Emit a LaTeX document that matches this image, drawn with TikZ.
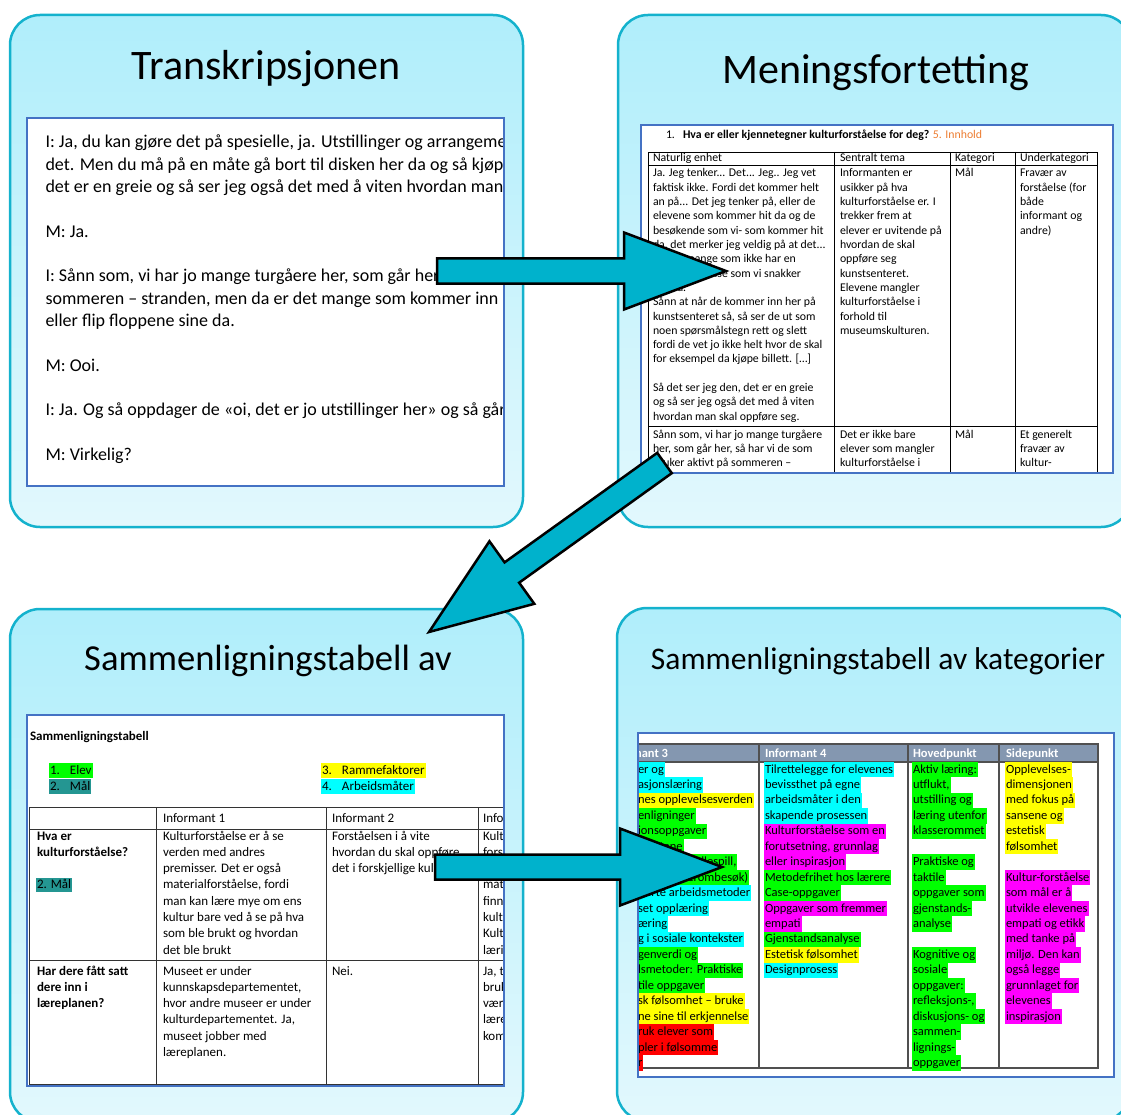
\documentclass[tikz,border=0pt]{standalone}
\usepackage{fontspec}
\setmainfont{Carlito}
\usetikzlibrary{calc}
\definecolor{panelborder}{RGB}{20,178,205}
\definecolor{paneltop}{RGB}{176,238,251}
\definecolor{panelbot}{RGB}{226,248,253}
\definecolor{docborder}{RGB}{68,114,196}
\definecolor{arrowfill}{RGB}{0,178,204}
\definecolor{hlg}{RGB}{0,255,0}
\definecolor{hlc}{RGB}{0,255,255}
\definecolor{hly}{RGB}{255,255,0}
\definecolor{hlm}{RGB}{255,0,255}
\definecolor{hlr}{RGB}{255,0,0}
\definecolor{hlt}{RGB}{36,150,146}
\definecolor{hdrfill}{RGB}{132,151,176}
\definecolor{innhold}{RGB}{237,125,49}
\definecolor{gridgray}{RGB}{80,80,80}
\newcommand\fsTitleA{\fontsize{42}{46}\selectfont}
\newcommand\fsTitleB{\fontsize{36.6}{40}\selectfont}
\newcommand\fsTitleC{\fontsize{31.5}{34}\selectfont}
\newcommand\fsOne{\fontsize{18}{21}\selectfont}
\newcommand\fsTwo{\fontsize{11.8}{14}\selectfont}
\newcommand\fsThree{\fontsize{13}{16}\selectfont}
\newcommand\fsFour{\fontsize{12.5}{15}\selectfont}
\newcommand\blockarrow[3]{%
  \coordinate (#3h) at ($(#2)!102pt!(#1)$);
  \draw[bigarrow] ($(#1)!12.5pt!90:(#2)$) -- ($(#3h)!12.5pt!90:(#2)$)
    -- ($(#3h)!38.5pt!90:(#2)$) -- (#2) -- ($(#3h)!38.5pt!-90:(#2)$)
    -- ($(#3h)!12.5pt!-90:(#2)$) -- ($(#1)!12.5pt!-90:(#2)$) -- cycle;}
\begin{document}
\begin{tikzpicture}[x=1pt,y=-1pt,
  panel/.style={draw=panelborder, line width=2.5pt, rounded corners=30pt, top color=paneltop, bottom color=panelbot},
  docline/.style={draw=docborder, line width=1.5pt},
  title/.style={anchor=base, inner sep=0pt},
  txt/.style={anchor=base west, inner sep=0pt, outer sep=0pt},
  hlA/.style={anchor=base west, fill=#1, inner xsep=1pt, inner ysep=0pt, outer sep=0pt, text height=11.3pt, text depth=4.15pt, font=\fsFour},
  hlB/.style={anchor=base west, fill=#1, inner xsep=1pt, inner ysep=0pt, outer sep=0pt, text height=11pt, text depth=3.5pt, font=\fsThree},
  tblA/.style={draw=black, line width=0.9pt},
  tblB/.style={draw=black!80, line width=1pt},
  tblC/.style={draw=gridgray, line width=1.2pt},
  bigarrow/.style={draw=black, line width=2.5pt, fill=arrowfill, line join=miter}]
\useasboundingbox (0,0) rectangle (1121,1115);
\clip (0,0) rectangle (1121,1115);

% ---------- panels ----------
\draw[panel] (10,15) rectangle (523,527);
\draw[panel] (618,15) rectangle (1131,527);
\draw[panel] (10,609) rectangle (523,1122);
\draw[panel] (617,608) rectangle (1130,1121);

\node[title, font=\fsTitleA] (title1) at (266,80) {Transkripsjonen};
\node[title, font=\fsTitleA] (title2) at (876,84) {Meningsfortetting};
\node[title, font=\fsTitleB] (title3) at (268,670) {Sammenligningstabell av};
\node[title, font=\fsTitleC] (title4) at (878,669) {Sammenligningstabell av kategorier};

% ---------- panel 1: transcript ----------
\fill[white] (27,118) rectangle (504,486);
\begin{scope}
\clip (27,118) rectangle (504,486);
\foreach \k/\t in {0/{I: Ja, du kan gjøre det på spesielle, ja. Utstillinger og arrangementer og},
  1/{det. Men du må på en måte gå bort til disken her da og så kjøpe billett},
  2/{det er en greie og så ser jeg også det med å viten hvordan man skal},
  4/{M: Ja.},
  6/{I: Sånn som, vi har jo mange turgåere her, som går her på},
  7/{sommeren – stranden, men da er det mange som kommer inn},
  8/{eller flip floppene sine da.},
  10/{M: Ooi.},
  12/{I: Ja. Og så oppdager de «oi, det er jo utstillinger her» og så går de},
  14/{M: Virkelig?}}
  \node[txt, font=\fsOne] (p1l\k) at (45.5,{148+22.3*\k}) {\t};
\end{scope}
\draw[docline] (27,118) rectangle (504,486);

% ---------- panel 2: meaning condensation ----------
\fill[white] (641,125) rectangle (1113,473);
\begin{scope}
\clip (641,125) rectangle (1113,473);
\node[txt, font=\fsTwo] (p2num) at (666,139) {1.};
\node[txt, font=\fsTwo\bfseries] (p2q) at (683,139) {Hva er eller kjennetegner kulturforståelse for deg? \textcolor{innhold}{\mdseries 5. Innhold}};
\draw[tblA] (648,152) rectangle (1097,490);
\draw[tblA] (648,165) -- (1097,165);
\draw[tblA] (648,426) -- (1097,426);
\foreach \cx in {834,950,1015} \draw[tblA] (\cx,152) -- (\cx,490);
\node[txt, font=\fsTwo] (p2h1) at (653,162) {Naturlig enhet};
\node[txt, font=\fsTwo] (p2h2) at (840,162) {Sentralt tema};
\node[txt, font=\fsTwo] (p2h3) at (955,162) {Kategori};
\node[txt, font=\fsTwo] (p2h4) at (1020,162) {Underkategori};
\foreach \k/\t in {0/{Ja. Jeg tenker... Det... Jeg.. Jeg vet},
  1/{faktisk ikke. Fordi det kommer helt},
  2/{an på... Det jeg tenker på, eller de},
  3/{elevene som kommer hit da og de},
  4/{besøkende som vi- som kommer hit},
  5/{da, det merker jeg veldig på at det...},
  6/{Det er mange som ikke har en},
  7/{kulturforståelse som vi snakker},
  8/{om da.},
  9/{Sånn at når de kommer inn her på},
  10/{kunstsenteret så, så ser de ut som},
  11/{noen spørsmålstegn rett og slett},
  12/{fordi de vet jo ikke helt hvor de skal},
  13/{for eksempel da kjøpe billett. […]},
  15/{Så det ser jeg den, det er en greie},
  16/{og så ser jeg også det med å viten},
  17/{hvordan man skal oppføre seg.}}
  \node[txt, font=\fsTwo] (p2a\k) at (653,{177+14.3*\k}) {\t};
\foreach \k/\t in {0/{Informanten er}, 1/{usikker på hva}, 2/{kulturforståelse er. I},
  3/{trekker frem at}, 4/{elever er uvitende på}, 5/{hvordan de skal}, 6/{oppføre seg},
  7/{kunstsenteret.}, 8/{Elevene mangler}, 9/{kulturforståelse i}, 10/{forhold til},
  11/{museumskulturen.}}
  \node[txt, font=\fsTwo] (p2b\k) at (840,{177+14.3*\k}) {\t};
\node[txt, font=\fsTwo] (p2c0) at (955,177) {Mål};
\foreach \k/\t in {0/{Fravær av}, 1/{forståelse (for}, 2/{både}, 3/{informant og}, 4/{andre)}}
  \node[txt, font=\fsTwo] (p2d\k) at (1020,{177+14.3*\k}) {\t};
\foreach \k/\t in {0/{Sånn som, vi har jo mange turgåere}, 1/{her, som går her, så har vi de som}, 2/{bruker aktivt på sommeren –}}
  \node[txt, font=\fsTwo] (p2e\k) at (653,{438+14.3*\k}) {\t};
\foreach \k/\t in {0/{Det er ikke bare}, 1/{elever som mangler}, 2/{kulturforståelse i}}
  \node[txt, font=\fsTwo] (p2f\k) at (840,{438+14.3*\k}) {\t};
\node[txt, font=\fsTwo] (p2g0) at (955,438) {Mål};
\foreach \k/\t in {0/{Et generelt}, 1/{fravær av}, 2/{kultur-}}
  \node[txt, font=\fsTwo] (p2h\k) at (1020,{438+14.3*\k}) {\t};
\end{scope}
\draw[docline] (641,125) rectangle (1113,473);

% ---------- panel 3: comparison table ----------
\fill[white] (27,715) rectangle (504,1086);
\begin{scope}
\clip (27,715) rectangle (504,1086);
\node[txt, font=\fsThree\bfseries] (p3t) at (30,740) {Sammenligningstabell};
\node[hlB=hlg] (lg1) at (49,774) {\makebox[20pt][l]{1.}Elev};
\node[hlB=hlt] (lg2) at (49,790) {\makebox[20pt][l]{2.}Mål};
\node[hlB=hly] (lg3) at (321,774) {\makebox[20pt][l]{3.}Rammefaktorer};
\node[hlB=hlc] (lg4) at (321,790) {\makebox[20pt][l]{4.}Arbeidsmåter};
\draw[tblB] (29,807) rectangle (530,1084);
\draw[tblB] (29,829) -- (530,829);
\draw[tblB] (29,960) -- (530,960);
\foreach \cx in {156,326,478} \draw[tblB] (\cx,807) -- (\cx,1084);
\node[txt, font=\fsThree] (p3h1) at (163,822) {Informant 1};
\node[txt, font=\fsThree] (p3h2) at (332,822) {Informant 2};
\node[txt, font=\fsThree] (p3h3) at (483,822) {Informant 3};
\node[txt, font=\fsThree\bfseries] (p3q1a) at (37,840) {Hva er};
\node[txt, font=\fsThree\bfseries] (p3q1b) at (37,856.3) {kulturforståelse?};
\node[hlB=hlt] (p3q1c) at (36,888.9) {2. Mål};
\foreach \k/\t in {0/{Kulturforståelse er å se}, 1/{verden med andres}, 2/{premisser. Det er også},
  3/{materialforståelse, fordi}, 4/{man kan lære mye om ens}, 5/{kultur bare ved å se på hva},
  6/{som ble brukt og hvordan}, 7/{det ble brukt}}
  \node[txt, font=\fsThree] (p3a\k) at (163,{840+16.3*\k}) {\t};
\foreach \k/\t in {0/{Forståelsen i å vite}, 1/{hvordan du skal oppføre}, 2/{det i forskjellige kulturer}}
  \node[txt, font=\fsThree] (p3b\k) at (332,{840+16.3*\k}) {\t};
\foreach \k/\t in {0/{Kulturforståelse}, 1/{forståelse}, 2/{og}, 3/{materiell}, 4/{finner}, 5/{kultur}, 6/{Kultur}, 7/{læring}}
  \node[txt, font=\fsThree] (p3c\k) at (483,{840+16.3*\k}) {\t};
\node[txt, font=\fsThree\bfseries] (p3q2a) at (37,975) {Har dere fått satt};
\node[txt, font=\fsThree\bfseries] (p3q2b) at (37,991.3) {dere inn i};
\node[txt, font=\fsThree\bfseries] (p3q2c) at (37,1007.6) {læreplanen?};
\foreach \k/\t in {0/{Museet er under}, 1/{kunnskapsdepartementet,}, 2/{hvor andre museer er under},
  3/{kulturdepartementet. Ja,}, 4/{museet jobber med}, 5/{læreplanen.}}
  \node[txt, font=\fsThree] (p3d\k) at (163,{975+16.3*\k}) {\t};
\node[txt, font=\fsThree] (p3e0) at (332,975) {Nei.};
\foreach \k/\t in {0/{Ja, tror}, 1/{bruker}, 2/{være}, 3/{læreplan}, 4/{kompetanse}}
  \node[txt, font=\fsThree] (p3f\k) at (483,{975+16.3*\k}) {\t};
\end{scope}
\draw[docline] (27,715) rectangle (504,1086);

% ---------- panel 4: categories ----------
\fill[white] (638,733) rectangle (1114,1077);
\begin{scope}
\clip (638,733) rectangle (1114,1077);
\fill[hdrfill] (600,744) rectangle (1098,762);
\draw[tblC] (600,744) rectangle (1098,1068);
\draw[tblC] (600,762) -- (1098,762);
\foreach \cx in {759,908,999} \draw[tblC] (\cx,744) -- (\cx,1068);
\node[txt, font=\fsFour\bfseries, text=white, anchor=base east] (p4h1) at (668,757) {Informant 3};
\node[txt, font=\fsFour\bfseries, text=white] (p4h2) at (765,757) {Informant 4};
\node[txt, font=\fsFour\bfseries, text=white] (p4h3) at (913,757) {Hovedpunkt};
\node[txt, font=\fsFour\bfseries, text=white] (p4h4) at (1006,757) {Sidepunkt};
\foreach \k/\c/\t in {0/hlc/{er og}, 1/hlc/{asjonslæring}, 2/hly/{nes opplevelsesverden},
  3/hlg/{enligninger}, 4/hlg/{ionsoppgaver}, 5/hlg/{ivitetene}, 6/hlg/{ktiviteter (rollespill,},
  7/hlg/{lukt, klasserombesøk)}, 8/hlc/{rierte arbeidsmetoder}, 9/hlc/{set opplæring},
  10/hlc/{æring}, 11/hlc/{g i sosiale kontekster}, 12/hlg/{genverdi og},
  13/hlg/{lsmetoder: Praktiske}, 14/hlg/{tile oppgaver}, 15/hly/{sk følsomhet – bruke},
  16/hly/{ne sine til erkjennelse}, 17/hlr/{ruk elever som}, 18/hlr/{pler i følsomme}, 19/hlr/{r}}
  \node[hlA=\c] (p4a\k) at (637,{773+15.45*\k}) {\t};
\foreach \k/\c/\t in {0/hlc/{Tilrettelegge for elevenes}, 1/hlc/{bevissthet på egne},
  2/hlc/{arbeidsmåter i den}, 3/hlc/{skapende prosessen}, 4/hlm/{Kulturforståelse som en},
  5/hlm/{forutsetning, grunnlag}, 6/hlm/{eller inspirasjon}, 7/hlg/{Metodefrihet hos lærere},
  8/hlg/{Case-oppgaver}, 9/hlm/{Oppgaver som fremmer}, 10/hlm/{empati},
  11/hlg/{Gjenstandsanalyse}, 12/hly/{Estetisk følsomhet}, 13/hlc/{Designprosess}}
  \node[hlA=\c] (p4b\k) at (764,{773+15.45*\k}) {\t};
\foreach \k/\t in {0/{Aktiv læring:}, 1/{utflukt,}, 2/{utstilling og}, 3/{læring utenfor},
  4/{klasserommet}, 6/{Praktiske og}, 7/{taktile}, 8/{oppgaver som}, 9/{gjenstands-},
  10/{analyse}, 12/{Kognitive og}, 13/{sosiale}, 14/{oppgaver:}, 15/{refleksjons-,},
  16/{diskusjons- og}, 17/{sammen-}, 18/{lignings-}, 19/{oppgaver}}
  \node[hlA=hlg] (p4c\k) at (912,{773+15.45*\k}) {\t};
\foreach \k/\c/\t in {0/hly/{Opplevelses-}, 1/hly/{dimensjonen}, 2/hly/{med fokus på},
  3/hly/{sansene og}, 4/hly/{estetisk}, 5/hly/{følsomhet}, 7/hlm/{Kultur-forståelse},
  8/hlm/{som mål er å}, 9/hlm/{utvikle elevenes}, 10/hlm/{empati og etikk},
  11/hlm/{med tanke på}, 12/hlm/{miljø. Den kan}, 13/hlm/{også legge},
  14/hlm/{grunnlaget for}, 15/hlm/{elevenes}, 16/hlm/{inspirasjon}}
  \node[hlA=\c] (p4d\k) at (1005,{773+15.45*\k}) {\t};
\end{scope}
\draw[docline] (638,733) rectangle (1114,1077);

% ---------- block arrows ----------
\coordinate (a1s) at (437,271);
\coordinate (a1e) at (726,271);
\coordinate (a2s) at (664.5,463);
\coordinate (a2e) at (429,632);
\coordinate (a3s) at (435,867);
\coordinate (a3e) at (722,867);
\blockarrow{a1s}{a1e}{a1}
\blockarrow{a2s}{a2e}{a2}
\blockarrow{a3s}{a3e}{a3}
\end{tikzpicture}
\end{document}
